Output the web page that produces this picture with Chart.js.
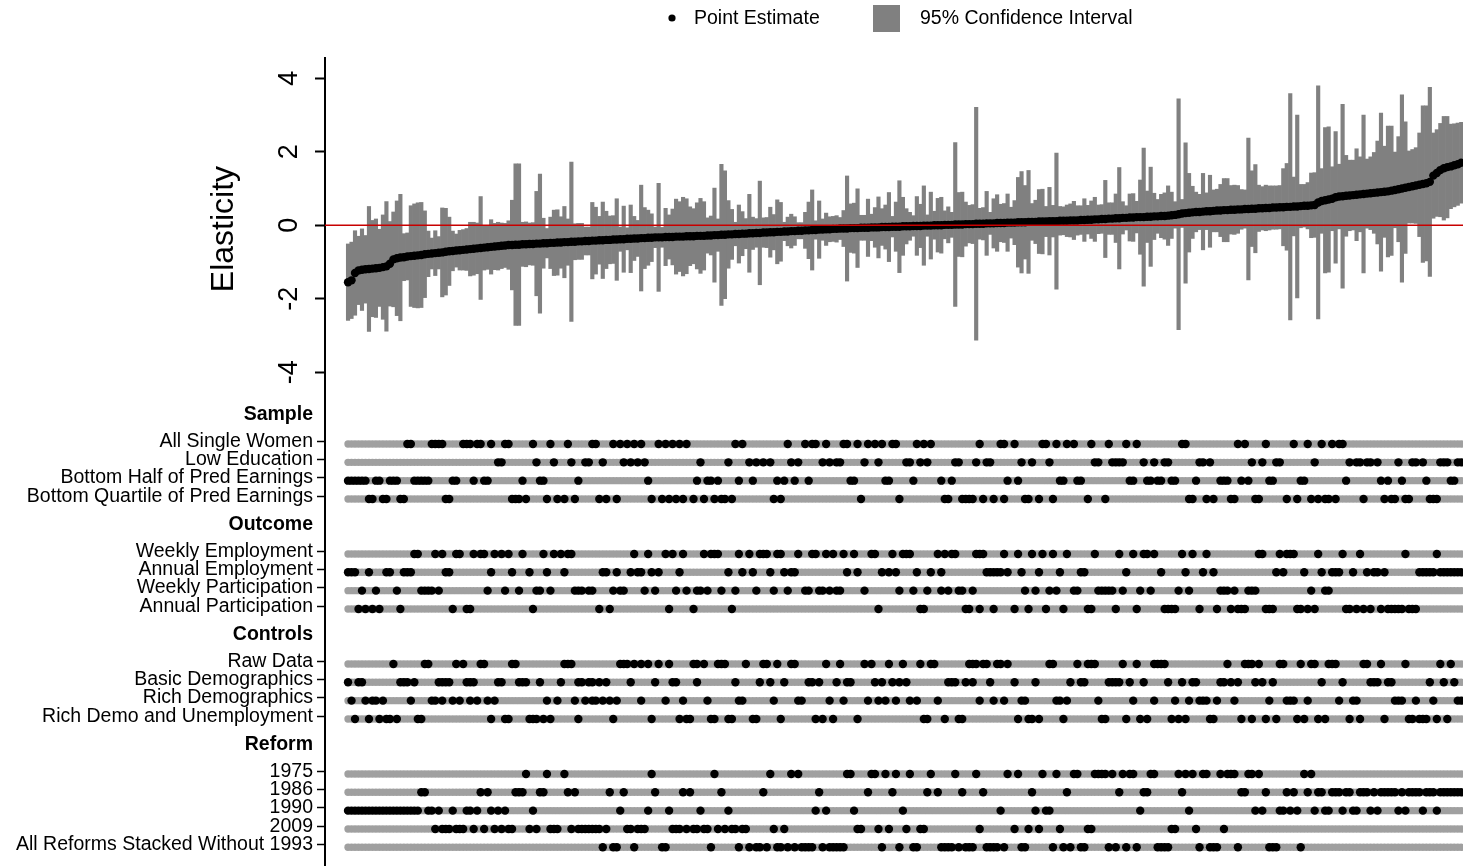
<!DOCTYPE html>
<html>
<head>
<meta charset="utf-8">
<script src="https://cdn.jsdelivr.net/npm/chart.js@4.4.1/dist/chart.umd.min.js"></script>
<style>
html,body{margin:0;padding:0;background:#fff;width:1463px;height:866px;overflow:hidden;}
#c1{position:absolute;left:0;top:0;}
#c2{position:absolute;left:0;top:400px;}
</style>
</head>
<body>
<canvas id="c1" width="1463" height="400"></canvas>
<canvas id="c2" width="1463" height="466"></canvas>
<script>
// ---------- DATA ----------
const estimates = [
-1.55,-1.50,-1.30,-1.23,-1.21,-1.20,-1.19,-1.18,-1.17,-1.16,
-1.14,-1.12,-1.05,-0.93,-0.90,-0.88,-0.87,-0.85,-0.84,-0.83,
-0.82,-0.81,-0.79,-0.78,-0.77,-0.76,-0.75,-0.74,-0.72,-0.71,
-0.70,-0.69,-0.68,-0.67,-0.66,-0.65,-0.64,-0.63,-0.62,-0.61,
-0.60,-0.59,-0.58,-0.57,-0.56,-0.55,-0.54,-0.54,-0.53,-0.53,
-0.52,-0.52,-0.51,-0.51,-0.50,-0.50,-0.49,-0.49,-0.48,-0.48,
-0.47,-0.47,-0.46,-0.46,-0.45,-0.45,-0.44,-0.44,-0.43,-0.43,
-0.42,-0.42,-0.41,-0.41,-0.40,-0.40,-0.39,-0.39,-0.38,-0.38,
-0.37,-0.37,-0.36,-0.36,-0.35,-0.35,-0.34,-0.34,-0.33,-0.33,
-0.33,-0.32,-0.32,-0.32,-0.31,-0.31,-0.31,-0.30,-0.30,-0.30,
-0.29,-0.29,-0.29,-0.28,-0.28,-0.27,-0.27,-0.26,-0.26,-0.25,
-0.25,-0.24,-0.24,-0.23,-0.23,-0.22,-0.22,-0.21,-0.21,-0.20,
-0.20,-0.19,-0.19,-0.18,-0.18,-0.17,-0.17,-0.16,-0.16,-0.15,
-0.15,-0.14,-0.14,-0.13,-0.13,-0.12,-0.12,-0.11,-0.11,-0.10,
-0.10,-0.09,-0.09,-0.09,-0.08,-0.08,-0.08,-0.07,-0.07,-0.07,
-0.06,-0.06,-0.06,-0.05,-0.05,-0.05,-0.04,-0.04,-0.04,-0.03,
-0.03,-0.03,-0.02,-0.02,-0.02,-0.01,-0.01,-0.01,0.00,0.00,
0.00,0.01,0.01,0.01,0.02,0.02,0.02,0.03,0.03,0.03,
0.04,0.04,0.04,0.05,0.05,0.05,0.06,0.06,0.06,0.07,
0.07,0.07,0.08,0.08,0.08,0.09,0.09,0.09,0.10,0.10,
0.10,0.11,0.11,0.11,0.12,0.12,0.12,0.13,0.13,0.13,
0.14,0.14,0.15,0.15,0.16,0.16,0.17,0.17,0.18,0.18,
0.19,0.19,0.20,0.20,0.21,0.21,0.22,0.22,0.22,0.23,
0.23,0.24,0.24,0.25,0.25,0.26,0.27,0.28,0.30,0.32,
0.33,0.34,0.35,0.36,0.36,0.37,0.38,0.38,0.39,0.40,
0.40,0.41,0.41,0.42,0.42,0.43,0.43,0.44,0.44,0.45,
0.45,0.46,0.46,0.47,0.47,0.48,0.48,0.49,0.49,0.50,
0.50,0.51,0.51,0.52,0.53,0.53,0.54,0.55,0.62,0.66,
0.68,0.70,0.72,0.76,0.78,0.79,0.80,0.81,0.82,0.83,
0.84,0.85,0.86,0.87,0.88,0.89,0.90,0.91,0.92,0.94,
0.96,0.98,1.00,1.02,1.04,1.06,1.08,1.10,1.12,1.14,
1.18,1.35,1.42,1.50,1.55,1.58,1.60,1.63,1.66,1.70
];

// half-width of the 95% confidence interval of each specification
const ciHalfWidths = [
1.04,1.04,1.15,0.93,1.11,0.92,1.70,1.31,1.34,1.05,
1.42,1.76,1.15,1.29,1.56,1.72,0.64,0.64,1.37,1.41,
1.43,1.43,1.18,0.62,0.42,0.61,0.44,1.21,1.18,0.93,
0.54,0.45,0.54,0.55,0.57,0.73,0.72,0.69,1.40,0.61,
0.60,0.74,0.63,0.65,0.62,0.60,0.66,1.22,2.20,2.20,
0.60,0.61,0.57,0.58,1.42,1.89,0.68,0.40,0.70,0.89,
0.89,0.70,0.97,0.63,2.17,0.49,0.49,0.49,0.38,0.38,
1.04,0.91,0.65,1.04,0.78,0.65,0.65,1.11,0.33,0.90,
0.30,0.92,0.60,0.49,1.44,0.83,0.75,0.65,0.28,1.47,
0.27,0.78,0.60,0.76,1.02,0.95,1.07,1.02,0.80,0.75,
0.90,1.02,0.93,0.48,0.53,1.28,0.44,1.92,1.74,0.92,
0.68,0.32,0.79,0.60,0.41,1.06,0.44,0.39,1.41,0.40,
0.41,0.68,0.48,0.87,0.80,0.25,0.39,0.46,0.39,0.22,
0.22,0.49,0.77,1.09,0.25,0.78,0.29,0.44,0.34,0.34,
0.36,0.30,0.49,1.43,0.66,0.68,1.07,0.34,0.34,0.78,
0.36,0.54,0.83,0.50,0.60,0.94,0.28,0.67,1.25,0.79,
0.48,0.38,0.28,0.80,0.59,1.08,0.29,0.91,0.38,0.73,
0.76,0.38,0.49,0.34,2.23,0.87,0.88,0.60,0.51,0.53,
3.17,0.42,0.44,0.87,0.30,0.67,0.77,0.51,0.53,0.78,
0.42,0.60,1.22,1.38,1.00,1.40,0.50,0.59,0.87,0.88,
0.41,0.92,0.43,1.85,0.39,0.38,0.43,0.45,0.52,0.40,
0.39,0.58,0.39,0.51,0.60,0.39,0.39,1.05,0.43,0.43,
0.66,1.38,0.44,0.33,0.64,0.65,0.43,1.01,1.88,0.70,
1.35,0.63,0.46,0.59,0.63,0.81,0.63,0.36,3.14,0.38,
1.91,1.07,0.71,0.54,0.48,1.04,0.50,0.98,0.57,0.58,
0.71,0.86,0.86,0.66,0.67,0.65,0.54,0.52,1.93,1.03,
1.20,0.63,0.59,0.62,0.60,0.59,0.59,0.59,1.05,1.18,
3.08,0.80,2.49,0.59,0.58,0.63,0.88,0.88,3.17,0.88,
1.98,1.98,0.87,1.79,0.88,2.50,1.10,0.96,0.95,1.25,
1.02,2.15,0.94,0.99,1.10,1.40,2.15,1.24,1.78,1.76,
1.03,1.43,2.55,1.79,0.98,1.00,1.03,1.41,2.13,2.11,
2.57,1.16,1.18,1.27,1.41,1.38,1.15,1.13,1.12,1.10
];

// specification numbers (rank order, 1..320) that use each choice
const sampleAllSingleWomen = [18,19,25,26,27,28,34,35,36,38,39,42,46,47,54,59,64,71,72,77,79,81,83,85,90,92,94,96,98,112,114,127,132,134,135,138,143,144,147,150,152,154,157,158,164,166,168,182,188,189,192,200,201,204,207,209,214,219,224,227,240,241,256,258,264,272,276,280,283,285,286];
const sampleLowEducation = [44,45,55,60,65,69,70,74,80,82,84,86,102,110,116,118,120,122,128,130,137,139,141,142,149,153,161,162,165,167,175,176,181,184,185,194,197,202,215,216,220,221,222,223,229,232,235,236,245,246,248,260,263,267,268,278,288,290,291,293,294,296,302,306,307,309,314,315,316,319,320];
const sampleBottomHalf = [1,2,3,4,5,6,9,10,13,14,15,20,21,22,23,24,31,32,37,40,41,51,56,57,67,87,101,104,105,107,113,117,124,126,129,133,145,146,155,156,163,171,174,190,193,205,206,210,211,225,226,230,231,233,234,237,238,244,251,252,253,257,259,265,266,274,275,287,297,299,303,310,317,318];
const sampleBottomQuartile = [7,8,11,12,16,17,29,30,48,49,50,52,58,61,63,66,73,75,78,88,91,93,95,97,100,103,106,108,109,111,123,125,148,159,172,173,177,178,179,180,183,186,189,195,196,199,203,213,218,242,243,247,249,254,255,261,262,270,273,277,279,281,282,284,292,298,300,301,304,305,311,312,313];

const outcomeWeeklyEmployment = [20,21,26,28,32,33,37,39,40,43,45,47,51,57,60,62,64,65,83,87,92,94,97,103,105,106,107,113,116,119,120,121,124,125,130,134,135,138,140,143,146,151,152,157,160,161,162,170,172,174,175,181,182,183,189,193,197,200,203,207,215,222,226,229,230,232,240,243,247,262,263,268,270,271,272,279,286,291,304,313];
const outcomeAnnualEmployment = [1,2,3,7,12,13,17,18,19,29,30,42,48,53,58,63,74,75,78,82,84,85,88,90,96,110,114,117,122,126,128,129,144,147,154,156,158,164,168,171,184,185,186,187,188,190,194,199,205,211,212,224,234,241,246,249,267,269,275,280,283,284,285,289,293,295,296,298,308,309,310,311,312,314,315,316,317,318,319,320];
const outcomeWeeklyParticipation = [5,9,15,22,23,24,25,27,41,46,50,55,56,59,66,67,68,70,71,77,79,80,86,89,95,98,101,102,104,108,112,118,123,127,132,133,136,137,139,141,142,149,159,163,167,171,173,176,177,180,195,198,202,204,209,210,216,217,218,219,220,223,228,231,239,242,251,252,253,255,259,260,261,277,281,282];
const outcomeAnnualParticipation = [4,6,8,10,16,31,35,36,54,73,76,93,100,111,153,165,166,178,179,182,186,192,196,201,206,213,214,221,227,235,236,237,238,245,250,254,256,257,258,264,265,266,273,274,276,278,287,288,290,292,294,297,299,300,301,302,303,305,306,307];

const controlsRawData = [14,23,24,32,34,39,40,48,49,63,64,65,79,80,81,83,85,87,90,93,100,101,103,107,108,109,115,120,121,124,128,129,138,142,149,151,156,160,165,168,169,179,180,181,183,184,187,188,190,202,203,210,213,214,215,223,227,232,233,234,235,253,258,259,260,262,268,269,274,277,278,282,283,284,292,293,297,304,314,317];
const controlsBasicDemographics = [1,4,5,16,17,18,20,27,28,29,30,35,36,37,44,45,50,51,52,56,62,67,68,70,71,73,75,82,89,94,95,101,112,119,122,126,133,134,136,141,144,145,152,154,157,159,161,173,174,175,178,180,185,192,198,208,211,212,219,220,221,222,225,229,236,240,243,244,251,252,254,256,261,263,266,280,286,294,295,296,299,300,311,315,318];
const controlsRichDemographics = [2,6,8,9,11,19,25,26,28,31,33,36,38,41,43,58,61,66,69,71,72,74,76,78,85,92,97,104,113,114,123,130,131,139,143,150,153,155,158,162,164,170,182,186,189,194,195,204,205,207,216,226,232,238,242,245,246,247,250,255,265,270,271,272,276,285,289,290,301,302,303,307,312,319,320];
const controlsRichDemoUnemployment = [3,7,10,12,13,15,21,22,42,46,47,53,54,55,57,59,67,77,88,96,98,99,105,106,110,111,117,118,125,135,137,140,147,166,167,172,176,177,193,196,197,199,206,217,218,224,228,230,237,239,241,248,249,257,260,264,267,273,275,279,281,288,291,298,305,306,308,309,310,313,316];

const reform1975 = [52,58,63,88,106,122,128,130,144,145,151,152,155,158,162,168,175,181,190,193,200,204,209,210,215,216,217,218,220,223,225,226,231,232,239,241,243,246,247,251,253,254,255,259,260,262,275,277];
const reform1986 = [22,23,39,41,49,50,51,56,57,64,66,76,80,89,97,99,108,120,136,150,157,167,170,177,183,197,207,222,229,230,240,257,258,264,270,272,276,279,280,283,284,285,287,288,291,292,293,295,297,298,299,300,301,303,305,306,307,308,310,311,312,314,315,316,317,318,319,320];
const reform1990 = [1,2,3,4,5,6,7,8,9,10,11,12,13,14,15,16,17,18,19,20,21,24,25,27,31,35,36,38,42,44,46,54,79,87,93,102,110,135,138,146,160,188,198,201,202,228,242,261,263,268,269,271,273,278,281,282,286,289,290,294,296,302,304,309,313];
const reform2009 = [26,28,29,30,32,33,34,37,40,43,45,47,48,53,55,59,60,61,65,67,68,69,70,71,72,73,75,81,82,84,85,86,94,95,96,98,100,101,103,104,107,109,111,112,114,115,123,126,147,148,153,156,161,165,166,182,192,196,199,205,213,214,237,238,244,252];
const reformAllStacked = [74,77,78,83,91,92,105,113,116,118,119,121,124,125,127,129,131,132,133,134,137,139,140,141,142,143,154,159,163,164,171,172,173,174,176,178,179,180,184,185,186,187,189,194,195,203,206,208,211,212,219,221,224,227,233,234,235,236,245,248,249,250,256,265,266,267,274];

const groupTitles = ['Sample','Outcome','Controls','Reform'];
const groupRowLabels = [
  ['All Single Women','Low Education','Bottom Half of Pred Earnings','Bottom Quartile of Pred Earnings'],
  ['Weekly Employment','Annual Employment','Weekly Participation','Annual Participation'],
  ['Raw Data','Basic Demographics','Rich Demographics','Rich Demo and Unemployment'],
  ['1975','1986','1990','2009','All Reforms Stacked Without 1993']
];
const groupRowHits = [
  [sampleAllSingleWomen, sampleLowEducation, sampleBottomHalf, sampleBottomQuartile],
  [outcomeWeeklyEmployment, outcomeAnnualEmployment, outcomeWeeklyParticipation, outcomeAnnualParticipation],
  [controlsRawData, controlsBasicDemographics, controlsRichDemographics, controlsRichDemoUnemployment],
  [reform1975, reform1986, reform1990, reform2009, reformAllStacked]
];
const elasticityTicks = [-4,-2,0,2,4];

// ---------- CHART BUILD ----------
const FONT = "'Liberation Sans', Arial, Helvetica, sans-serif";
const N = Math.min(estimates.length, ciHalfWidths.length);
const xMin = -5.6, xMax = 320.5;

const ciData = [], estData = [];
for (let k = 0; k < N; k++) {
  ciData.push({x: k + 1, y: [estimates[k] - ciHalfWidths[k], estimates[k] + ciHalfWidths[k]]});
  estData.push({x: k + 1, y: estimates[k]});
}

const legendPlugin = {
  id: 'customLegend',
  afterDraw(chart) {
    const ctx = chart.ctx;
    ctx.save();
    ctx.fillStyle = '#000';
    ctx.beginPath(); ctx.arc(672, 18, 3.6, 0, Math.PI * 2); ctx.fill();
    ctx.font = '19.5px ' + FONT;
    ctx.textBaseline = 'middle';
    ctx.textAlign = 'left';
    ctx.fillText('Point Estimate', 694, 19);
    ctx.fillStyle = '#808080';
    ctx.fillRect(873, 5, 27, 27);
    ctx.fillStyle = '#000';
    ctx.fillText('95% Confidence Interval', 920, 19);
    ctx.restore();
  }
};

new Chart(document.getElementById('c1'), {
  type: 'bar',
  data: {
    datasets: [
      {type: 'line', data: [{x: xMin, y: 0}, {x: xMax, y: 0}], borderColor: '#c80000', borderWidth: 1.6, pointRadius: 0, order: 0},
      {type: 'line', data: estData, showLine: false, pointRadius: 4.2, pointBackgroundColor: '#000', pointBorderWidth: 0, order: 1},
      {type: 'bar', data: ciData, backgroundColor: '#808080', borderWidth: 0, barPercentage: 1, categoryPercentage: 1, order: 2}
    ]
  },
  options: {
    responsive: false, animation: false, events: [],
    layout: {padding: {left: 201, top: 58, right: 0, bottom: 0}, autoPadding: false},
    plugins: {legend: {display: false}, tooltip: {enabled: false}},
    scales: {
      x: {type: 'linear', min: xMin, max: xMax, display: false, offset: false},
      y: {
        type: 'linear', min: -4.756, max: 4.55,
        afterFit(s) { s.width = 124; s.paddingTop = 0; s.paddingBottom = 0; },
        afterBuildTicks(s) { s.ticks = elasticityTicks.map(v => ({value: v})); },
        ticks: {autoSkip: false, minRotation: 90, maxRotation: 90, crossAlign: 'center', padding: 13, color: '#000', font: {family: FONT, size: 27}},
        grid: {drawOnChartArea: false, tickLength: 10, tickColor: '#000', tickWidth: 2},
        border: {display: true, color: '#000', width: 2},
        title: {display: true, text: 'Elasticity', color: '#000', font: {family: FONT, size: 32}, padding: {top: 4, bottom: 4}}
      }
    }
  },
  plugins: [legendPlugin]
});

// indicator panel
const labelShift = -0.15;
const tickDefs = [];
const grayPts = [], blackPts = [];
groupTitles.forEach((title, g) => {
  tickDefs.push({v: g * 6 - 1.6, label: title, header: true});
  groupRowLabels[g].forEach((lab, r) => {
    const v = g * 6 + r;
    tickDefs.push({v: v + labelShift, label: lab, header: false});
    for (let k = 1; k <= N; k++) grayPts.push({x: k, y: v});
    groupRowHits[g][r].forEach(k => blackPts.push({x: k, y: v}));
  });
});

new Chart(document.getElementById('c2'), {
  type: 'scatter',
  data: {
    datasets: [
      {data: blackPts, pointRadius: 4.2, pointBackgroundColor: '#000', pointBorderWidth: 0, order: 0},
      {data: grayPts, pointRadius: 3.7, pointBackgroundColor: '#a0a0a0', pointBorderWidth: 0, order: 1}
    ]
  },
  options: {
    responsive: false, animation: false, events: [],
    layout: {padding: 0, autoPadding: false},
    plugins: {legend: {display: false}, tooltip: {enabled: false}},
    scales: {
      x: {type: 'linear', min: xMin, max: xMax, display: false},
      y: {
        type: 'linear', reverse: true, min: -2.4, max: 23.02,
        afterFit(s) { s.width = 325; s.paddingTop = 0; s.paddingBottom = 0; },
        afterBuildTicks(s) { s.ticks = tickDefs.map(d => ({value: d.v})); },
        ticks: {
          autoSkip: false, color: '#000', padding: 4,
          font: (c) => ({family: FONT, size: 19.5, weight: (tickDefs[c.index] && tickDefs[c.index].header) ? 'bold' : 'normal'}),
          callback: (v, i) => tickDefs[i] ? tickDefs[i].label : ''
        },
        grid: {drawOnChartArea: false, tickLength: 8, tickWidth: 1.5,
               tickColor: (c) => (tickDefs[c.index] && tickDefs[c.index].header) ? 'rgba(0,0,0,0)' : '#000'},
        border: {display: true, color: '#000', width: 2}
      }
    }
  }
});
</script>
</body>
</html>
